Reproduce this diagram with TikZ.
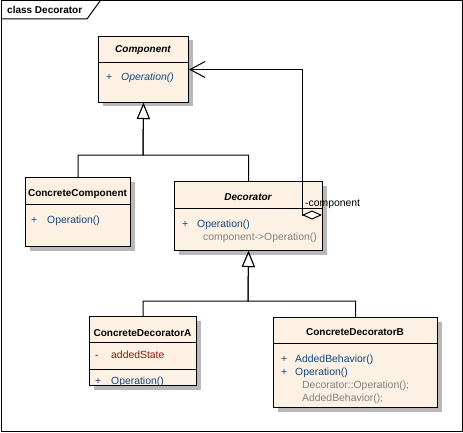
\documentclass[tikz,border=0pt]{standalone}
\usepackage{fontspec}
\setmainfont{Liberation Sans}
\usetikzlibrary{arrows.meta,shadows}

\definecolor{classfill}{RGB}{252,241,227}
\definecolor{opblue}{RGB}{20,70,130}
\definecolor{attrred}{RGB}{150,20,20}
\definecolor{codegrey}{RGB}{130,130,130}

\tikzset{
  classbox/.style={draw=black, line width=1pt, fill=classfill, anchor=north west,
    inner sep=0pt, drop shadow={shadow xshift=4pt, shadow yshift=-4pt, fill=black!28, opacity=1}},
  sepline/.style={line width=1pt},
  cname/.style={anchor=base, inner sep=0pt, font=\fontsize{10}{12}\selectfont\bfseries},
  aname/.style={cname, font=\fontsize{10}{12}\selectfont\bfseries\itshape},
  member/.style={anchor=base west, inner sep=0pt, font=\fontsize{10.4}{12}\selectfont},
  vis/.style={member, text=opblue},
  oper/.style={member, text=opblue},
  attr/.style={member, text=attrred},
  code/.style={member, text=codegrey},
  gen/.style={line width=1pt, -{Triangle[length=16pt,width=13pt,fill=white]}},
  agg/.style={line width=1pt, {Diamond[length=20pt,width=9pt,fill=white]}-{Straight Barb[length=15pt,width=16pt]}},
}

\begin{document}
\begin{tikzpicture}[x=1pt,y=-1pt]
  \useasboundingbox (0,0) rectangle (463,433);

  % diagram frame with its name tab
  \draw[line width=1pt] (1,1) rectangle (462,431);
  \draw[line width=1pt] (1,19) -- (87,19) -- (100,1);
  \node[anchor=base west, inner sep=0pt, font=\fontsize{10}{12}\selectfont\bfseries] (title) at (7,14) {class Decorator};

  % Component (abstract)
  \node[classbox, minimum width=90pt, minimum height=66pt] (comp) at (98,36) {};
  \draw[sepline] (98,63) -- (188,63);
  \node[aname] (compN) at (143,53) {Component};
  \node[vis] (compV) at (106,81) {+};
  \node[oper, font=\fontsize{10.4}{12}\selectfont\itshape] (compO) at (121,81) {Operation()};

  % ConcreteComponent
  \node[classbox, minimum width=105pt, minimum height=69pt] (cc) at (25,177) {};
  \draw[sepline] (25,204) -- (130,204);
  \node[cname] (ccN) at (77.5,196) {ConcreteComponent};
  \node[vis] (ccV) at (31,223) {+};
  \node[oper] (ccO) at (47,223) {Operation()};

  % Decorator (abstract)
  \node[classbox, minimum width=148pt, minimum height=69pt] (dec) at (174,181) {};
  \draw[sepline] (174,208) -- (322,208);
  \node[aname] (decN) at (248,200) {Decorator};
  \node[vis] (decV) at (182,227) {+};
  \node[oper] (decO) at (197,227) {Operation()};
  \node[code] (decC) at (203,240) {component->Operation()};

  % ConcreteDecoratorA
  \node[classbox, minimum width=107pt, minimum height=69pt] (cda) at (89,316) {};
  \draw[sepline] (89,342) -- (196,342);
  \draw[sepline] (89,369) -- (196,369);
  \node[cname] (cdaN) at (142.5,336) {ConcreteDecoratorA};
  \node[attr] (cdaV1) at (95,358) {-};
  \node[attr] (cdaA) at (111,358) {addedState};
  \node[vis] (cdaV2) at (95,384) {+};
  \node[oper] (cdaO) at (111,384) {Operation()};

  % ConcreteDecoratorB
  \node[classbox, minimum width=164pt, minimum height=90pt] (cdb) at (273,317) {};
  \draw[sepline] (273,343) -- (437,343);
  \node[cname] (cdbN) at (355,335) {ConcreteDecoratorB};
  \node[vis] (cdbV1) at (281,362) {+};
  \node[oper] (cdbO1) at (295,362) {AddedBehavior()};
  \node[vis] (cdbV2) at (281,375) {+};
  \node[oper] (cdbO2) at (295,375) {Operation()};
  \node[code] (cdbC1) at (302,388) {Decorator::Operation();};
  \node[code] (cdbC2) at (302,401) {AddedBehavior();};

  % generalizations
  \coordinate (g1) at (143,155);
  \coordinate (g2) at (248,301);
  \draw[gen] (cc.north) |- (g1) -- (comp.south);
  \draw[gen] (dec.north) |- (g1) -- (comp.south);
  \draw[gen] (cda.north) |- (g2) -- (dec.south);
  \draw[gen] (cdb.north) |- (g2) -- (dec.south);

  % aggregation Decorator -> Component
  \coordinate (aggD) at (322,215);
  \coordinate (aggB) at (302,215);
  \draw[agg] (aggD) -- (aggB) |- (comp.east);
  \node[anchor=base west, inner sep=0pt, font=\fontsize{10.4}{12}\selectfont] (role) at (305,206) {-component};
\end{tikzpicture}
\end{document}
